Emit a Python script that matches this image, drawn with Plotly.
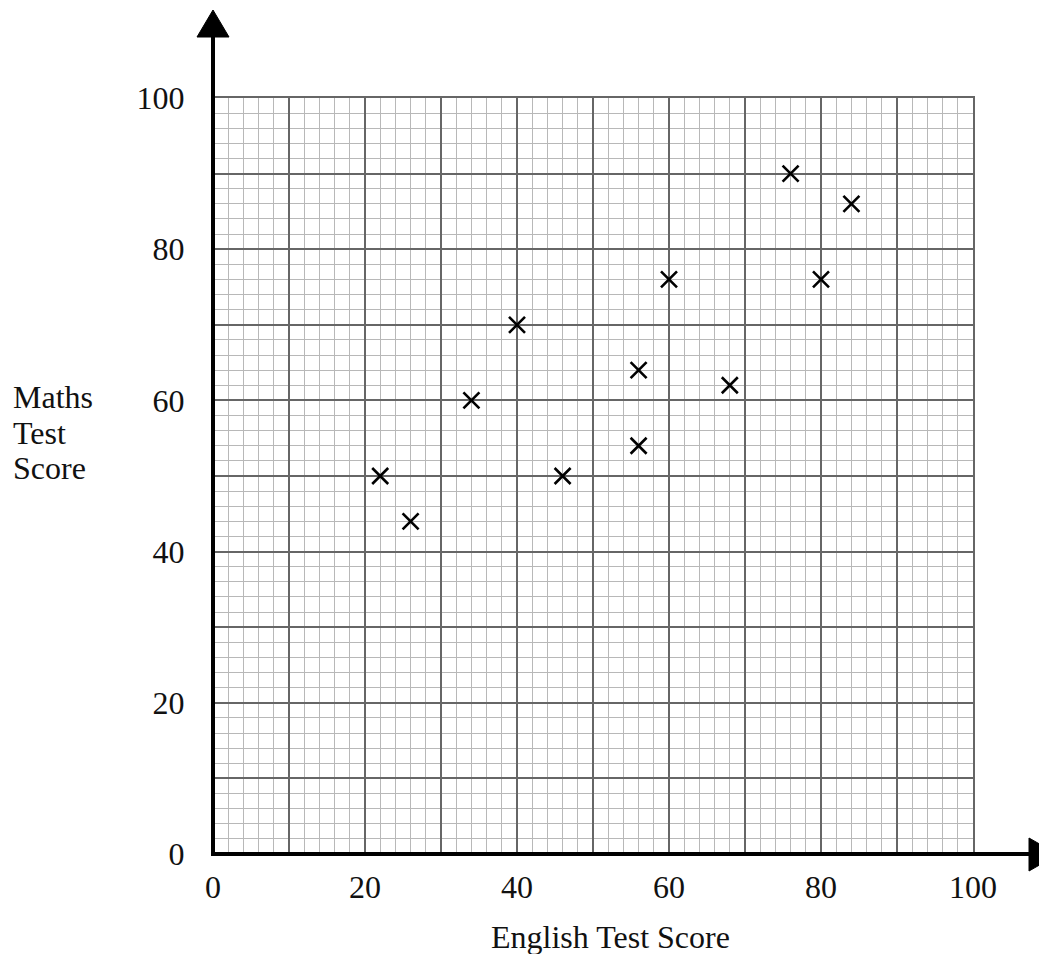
import plotly.graph_objects as go

# Data
english = [22, 26, 34, 40, 46, 56, 56, 60, 68, 76, 80, 84]
maths = [50, 44, 60, 70, 50, 64, 54, 76, 62, 90, 76, 86]
tick_vals = [0, 20, 40, 60, 80, 100]
grid_vals = [0, 10, 20, 30, 40, 50, 60, 70, 80, 90, 100]

OFF = 8  # default page body margin
W, H = 1047 - OFF, 954 - OFF
L, R, T, B = 213 - OFF, 74, 98 - OFF, 100
PW, PH = W - L - R, H - T - B
X0, Y1 = 213, 854  # plot-area left and bottom in window pixels
FONT = "Liberation Serif, Times New Roman, serif"
FS = 32

def px(x):
    return (x - X0) / PW

def py(y):
    return (Y1 - y) / PH

fig = go.Figure()
fig.add_trace(go.Scatter(
    x=english, y=maths, mode="markers",
    marker=dict(symbol="x-thin", size=16, color="black",
                line=dict(width=2.6, color="black")),
    hoverinfo="x+y", showlegend=False,
))

labels = [str(v) if v in tick_vals else "" for v in grid_vals]
axis_common = dict(
    range=[0, 100], tickvals=grid_vals, ticktext=labels,
    showgrid=True, gridcolor="#666666", gridwidth=2,
    minor=dict(dtick=2, showgrid=True, gridcolor="#b8b8b8", gridwidth=1),
    zeroline=False, showline=True, mirror=True, linecolor="#666666", linewidth=2,
    ticks="outside", tickcolor="rgba(0,0,0,0)",
    tickfont=dict(family=FONT, size=FS, color="#111"),
    fixedrange=True,
)
fig.update_xaxes(**axis_common, ticklen=4)
fig.update_yaxes(**axis_common, ticklen=20)

shapes = [
    # y axis line
    dict(type="line", xref="paper", yref="paper", x0=px(213), x1=px(213),
         y0=py(856), y1=py(36), line=dict(color="black", width=4)),
    # x axis line
    dict(type="line", xref="paper", yref="paper", x0=px(211), x1=px(1030),
         y0=py(854), y1=py(854), line=dict(color="black", width=4)),
    # y arrow head
    dict(type="path", xref="paper", yref="paper",
         path=f"M {px(197)} {py(37)} L {px(213)} {py(10)} L {px(229)} {py(37)} Z",
         fillcolor="black", line=dict(color="black", width=1)),
    # x arrow head
    dict(type="path", xref="paper", yref="paper",
         path=f"M {px(1029)} {py(838)} L {px(1058)} {py(854.5)} L {px(1029)} {py(871)} Z",
         fillcolor="black", line=dict(color="black", width=1)),
]
fig.update_layout(shapes=shapes)

annotations = [
    dict(text="English Test Score", x=px(610), y=py(937), xref="paper", yref="paper",
         xanchor="center", yanchor="middle", showarrow=False,
         font=dict(family=FONT, size=FS, color="#111")),
]
for txt, yc in [("Maths", 397), ("Test", 433), ("Score", 468)]:
    annotations.append(dict(text=txt, x=px(11), y=py(yc), xref="paper", yref="paper",
                            xanchor="left", yanchor="middle", showarrow=False,
                            font=dict(family=FONT, size=FS, color="#111")))
fig.update_layout(annotations=annotations)

fig.update_layout(
    width=W, height=H,
    margin=dict(l=L, r=R, t=T, b=B, pad=0),
    paper_bgcolor="white", plot_bgcolor="white",
    showlegend=False,
)

fig.write_html("out.html")
